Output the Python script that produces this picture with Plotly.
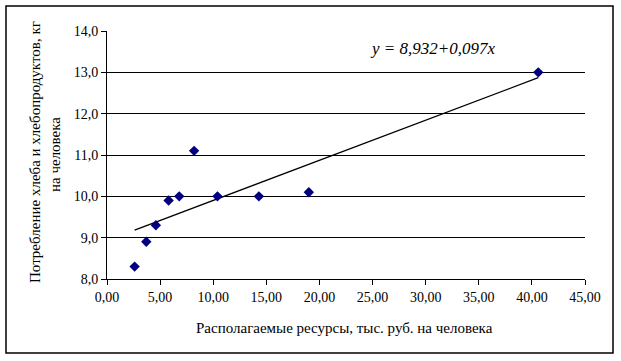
import plotly.graph_objects as go

# Data
resources = [2.6, 3.7, 4.6, 5.8, 6.8, 8.2, 10.4, 14.3, 19.0, 40.6]
consumption = [8.3, 8.9, 9.3, 9.9, 10.0, 11.1, 10.0, 10.0, 10.1, 13.0]
intercept = 8.932
slope = 0.097
x_ticks = [0, 5, 10, 15, 20, 25, 30, 35, 40, 45]
x_tick_labels = ["0,00", "5,00", "10,00", "15,00", "20,00", "25,00", "30,00", "35,00", "40,00", "45,00"]
y_ticks = [8, 9, 10, 11, 12, 13, 14]
y_tick_labels = ["8,0", "9,0", "10,0", "11,0", "12,0", "13,0", "14,0"]

W, H = 621, 361
L, R, T, B = 107, 585, 31, 279
pw, ph = R - L, B - T

def px(xp):
    return (xp - L) / pw

def py(yp):
    return (B - yp) / ph

font = "Liberation Serif, Times New Roman, serif"

fig = go.Figure()

trend_x = [min(resources), max(resources)]
trend_y = [intercept + slope * v for v in trend_x]
fig.add_trace(go.Scatter(x=trend_x, y=trend_y, mode="lines",
                         line=dict(color="black", width=1.3), hoverinfo="skip"))
fig.add_trace(go.Scatter(x=resources, y=consumption, mode="markers",
                         marker=dict(symbol="diamond", size=8, color="#000080",
                                     line=dict(width=0))))

fig.update_layout(
    width=W, height=H,
    margin=dict(l=L, r=W - R, t=T, b=H - B, pad=0),
    paper_bgcolor="white", plot_bgcolor="white",
    showlegend=False,
    font=dict(family=font, size=14, color="black"),
    xaxis=dict(range=[0, 45], tickvals=x_ticks, ticktext=x_tick_labels,
               showgrid=False, zeroline=False, showline=True, linecolor="black",
               linewidth=1, ticks="outside", ticklen=5, tickcolor="black",
               automargin=False,
               tickfont=dict(family=font, size=14, color="black")),
    yaxis=dict(range=[8, 14], tickvals=y_ticks, ticktext=y_tick_labels,
               showgrid=True, gridcolor="black", gridwidth=1, zeroline=False,
               showline=True, linecolor="black", linewidth=1,
               ticks="outside", ticklen=5, tickcolor="black",
               automargin=False,
               tickfont=dict(family=font, size=14, color="black")),
)

# x-axis title
fig.add_annotation(text="Располагаемые ресурсы, тыс. руб. на человека",
                   xref="paper", yref="paper", x=px(344), y=py(328),
                   xanchor="center", yanchor="middle", showarrow=False,
                   font=dict(family=font, size=15, color="black"))
# y-axis title (two lines)
fig.add_annotation(text="Потребление хлеба и хлебопродуктов, кг",
                   xref="paper", yref="paper", x=px(35), y=py(152),
                   xanchor="center", yanchor="middle", showarrow=False, textangle=-90,
                   font=dict(family=font, size=15, color="black"))
fig.add_annotation(text="на человека",
                   xref="paper", yref="paper", x=px(55), y=py(155),
                   xanchor="center", yanchor="middle", showarrow=False, textangle=-90,
                   font=dict(family=font, size=15, color="black"))
# equation
fig.add_annotation(text="<i>y = 8,932+0,097x</i>",
                   xref="paper", yref="paper", x=px(432), y=py(48),
                   xanchor="center", yanchor="middle", showarrow=False,
                   font=dict(family=font, size=17, color="black"))

# outer chart border
fig.add_shape(type="rect", xref="paper", yref="paper",
              x0=px(6), x1=px(613), y0=py(353), y1=py(6),
              line=dict(color="black", width=1.5), fillcolor="rgba(0,0,0,0)",
              layer="above")

fig.write_html("out.html", config={"displayModeBar": False},
               post_script="document.body.style.margin='0';")
